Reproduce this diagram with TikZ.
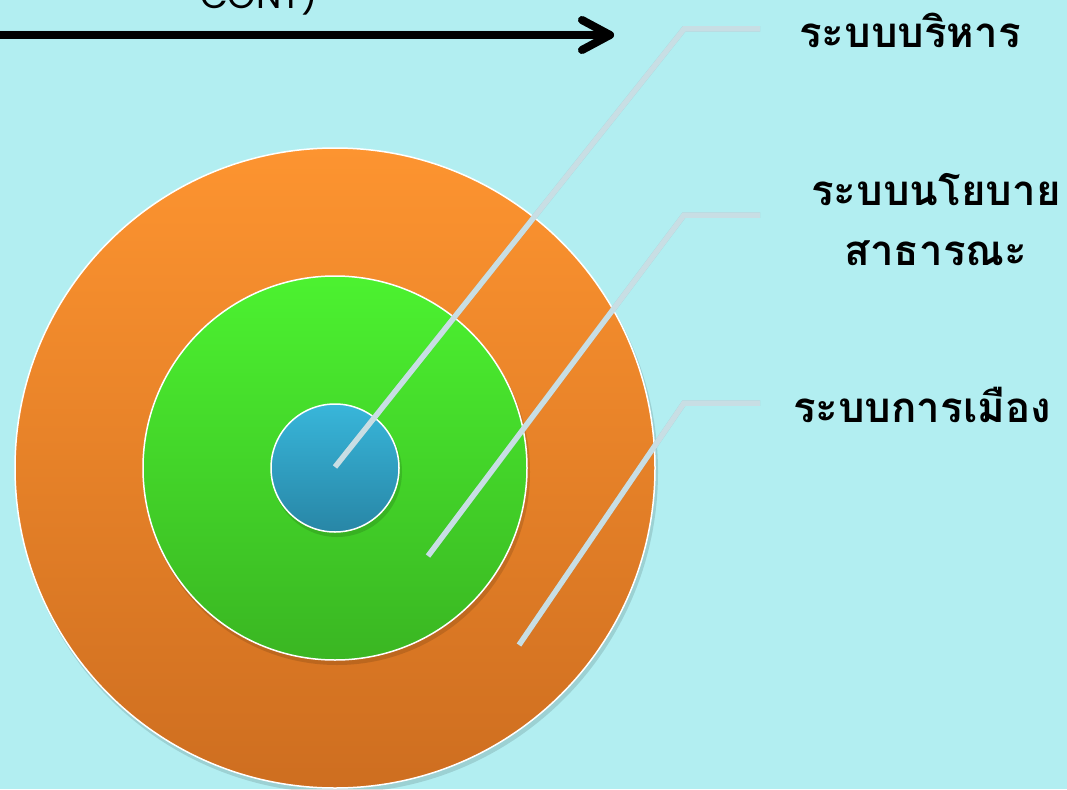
\documentclass[tikz,border=0pt]{standalone}
\usepackage{fontspec}
\usetikzlibrary{calc}
\newfontfamily\thaifont[Script=Thai]{Loma}
\newfontfamily\topfont{Poppins}
\definecolor{bg}{RGB}{178,238,241}
\definecolor{orTop}{RGB}{253,148,48}
\definecolor{orBot}{RGB}{206,110,32}
\definecolor{grTop}{RGB}{76,242,48}
\definecolor{grBot}{RGB}{58,182,34}
\definecolor{blTop}{RGB}{56,182,218}
\definecolor{blBot}{RGB}{40,134,166}
\definecolor{callout}{RGB}{200,222,228}
\definecolor{shade}{RGB}{90,140,150}
\tikzset{
  ring/.style={circle, draw=white, line width=1.5pt, inner sep=0pt},
  calloutline/.style={draw=callout, line width=5.5pt, line join=miter},
  calloutshadow/.style={draw=shade, line width=5.5pt, opacity=0.3},
  label/.style={font=\thaifont\bfseries\fontsize{42}{60}\selectfont, align=center, text=black, inner sep=0pt},
}
\begin{document}
\begin{tikzpicture}[x=1pt,y=-1pt]
\fill[bg] (0,0) rectangle (1067,789);
\useasboundingbox (0,0) rectangle (1067,789);
% top partial text
\node[anchor=base west, inner sep=0pt, font=\topfont\fontsize{36}{40}\selectfont] (toptext) at (200,9) {CONT)};
% arrow
\coordinate (astart) at (-10,35);
\coordinate (tip) at (610,35);
\draw[black, opacity=0.25, line width=8pt, line cap=round, line join=round, shift={(2,3)}] (astart) -- (tip) ++(-28,-15) -- (tip) -- ++(-28,15);
\draw[black, line width=8pt, line cap=round, line join=round] (astart) -- (tip);
\draw[black, line width=8pt, line cap=round, line join=round] (tip) ++(-28,-15) -- (tip) -- ++(-28,15);
% circles (soft shadows)
\fill[black, opacity=0.12] (337,472) circle (321);
\node[ring, minimum size=640pt, top color=orTop, bottom color=orBot] (outer) at (335,468) {};
\fill[black, opacity=0.12] (337,472) circle (193);
\node[ring, minimum size=384pt, top color=grTop, bottom color=grBot] (middle) at (335,468) {};
\fill[black, opacity=0.12] (337,472) circle (65);
\node[ring, minimum size=128pt, top color=blTop, bottom color=blBot] (inner) at (335,468) {};
% callout coordinates
\coordinate (p1) at (335,467);
\coordinate (b1) at (684,29);
\coordinate (e1) at (760,29);
\coordinate (p2) at (428,556);
\coordinate (b2) at (684,215);
\coordinate (e2) at (760,215);
\coordinate (p3) at (519,645);
\coordinate (b3) at (684,403);
\coordinate (e3) at (760,403);
\foreach \i in {1,2,3}{
  \draw[calloutshadow, shift={(2,3)}] (p\i) -- (b\i) -- (e\i);
  \draw[calloutline] (p\i) -- (b\i) -- (e\i);
}
% labels
\node[label] (l1) at (910,30) {ระบบบริหาร};
\node[label] (l2) at (936,220) {ระบบนโยบาย\\สาธารณะ};
\node[label] (l3) at (922,405) {ระบบการเมือง};
\end{tikzpicture}
\end{document}
